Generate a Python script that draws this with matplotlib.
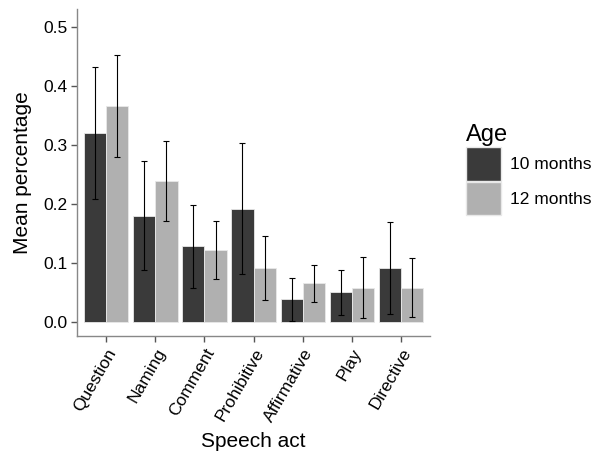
import numpy as np
import matplotlib
matplotlib.use('Agg')
import matplotlib.pyplot as plt
from matplotlib.patches import Patch

plt.rcParams['font.family'] = ['Liberation Sans', 'DejaVu Sans']

# Data
acts = ['Question', 'Naming', 'Comment', 'Prohibitive', 'Affirmative', 'Play', 'Directive']
mean_10 = [0.320, 0.180, 0.128, 0.192, 0.038, 0.050, 0.091]
low_10 = [0.208, 0.087, 0.058, 0.081, 0.002, 0.011, 0.013]
high_10 = [0.432, 0.272, 0.198, 0.303, 0.075, 0.088, 0.169]
mean_12 = [0.366, 0.239, 0.121, 0.092, 0.065, 0.058, 0.058]
low_12 = [0.280, 0.170, 0.072, 0.037, 0.034, 0.007, 0.008]
high_12 = [0.452, 0.306, 0.170, 0.146, 0.096, 0.109, 0.108]

dark = '#3a3a3a'
light = '#b0b0b0'

fig = plt.figure(figsize=(5.99, 4.54), dpi=100)
ax = fig.add_axes([0.1285, 0.26, 0.5895, 0.72])

x = np.arange(1, len(acts) + 1)
w = 0.45
m10, m12 = np.array(mean_10), np.array(mean_12)
err10 = [m10 - np.array(low_10), np.array(high_10) - m10]
err12 = [m12 - np.array(low_12), np.array(high_12) - m12]

ax.bar(x - w / 2, m10, w, color=dark, edgecolor='#e8e8e8', linewidth=0.6)
ax.bar(x + w / 2, m12, w, color=light, edgecolor='#e8e8e8', linewidth=0.6)
ax.errorbar(x - w / 2, m10, yerr=err10, fmt='none', ecolor='black',
            elinewidth=0.8, capsize=2, capthick=0.8)
ax.errorbar(x + w / 2, m12, yerr=err12, fmt='none', ecolor='black',
            elinewidth=0.8, capsize=2, capthick=0.8)

ax.set_xlim(0.4, 7.6)
ax.set_ylim(-0.024, 0.53)
ax.set_yticks([0.0, 0.1, 0.2, 0.3, 0.4, 0.5])
ax.set_yticklabels(['0.0', '0.1', '0.2', '0.3', '0.4', '0.5'])
ax.set_xticks(x)
ax.set_xticklabels(acts, rotation=60, ha='right', rotation_mode='anchor')

for s in ['top', 'right']:
    ax.spines[s].set_visible(False)
for s in ['left', 'bottom']:
    ax.spines[s].set_color('#888888')
    ax.spines[s].set_linewidth(1.0)
ax.tick_params(axis='both', colors='#555555', length=4, width=1, labelsize=12.5,
               labelcolor='black', pad=3)

ax.set_ylabel('Mean percentage', fontsize=15, labelpad=8)
ax.set_xlabel('Speech act', fontsize=15, labelpad=6)

handles = [Patch(facecolor=dark, edgecolor='#e8e8e8'),
           Patch(facecolor=light, edgecolor='#e8e8e8')]
leg = fig.legend(handles, ['10 months', '12 months'], title='Age',
                 loc='upper left', bbox_to_anchor=(0.763, 0.745),
                 frameon=False, fontsize=12.5, title_fontsize=17,
                 handlelength=2.05, handleheight=2.6, handletextpad=0.5,
                 labelspacing=0.05, borderpad=0)
leg._legend_box.align = 'left'

fig.savefig('out.png', dpi=100)
